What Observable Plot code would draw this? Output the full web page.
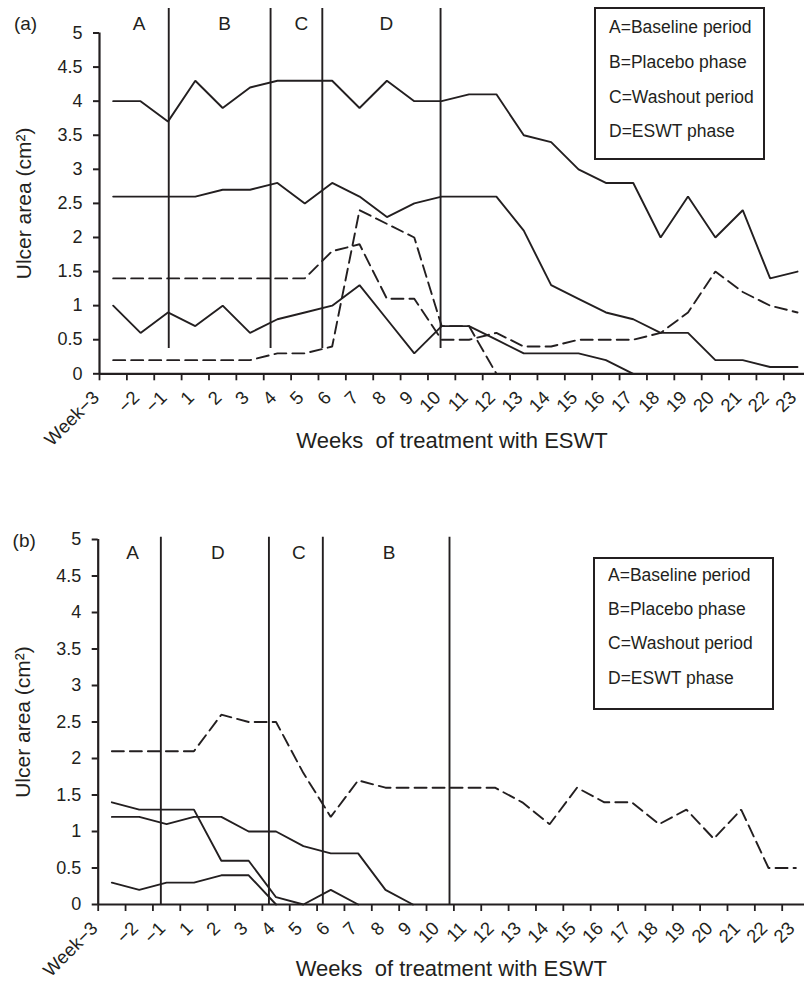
<!DOCTYPE html>
<html>
<head>
<meta charset="utf-8">
<script src="https://cdn.jsdelivr.net/npm/d3@7"></script>
<script src="https://cdn.jsdelivr.net/npm/@observablehq/plot@0.6"></script>
<style>
  html, body { margin: 0; padding: 0; background: #fff; }
  #page { position: relative; width: 804px; height: 982px; overflow: hidden; font-family: 'Liberation Sans', Arial, Helvetica, sans-serif; color: #231f20; }
  .panel { position: absolute; left: 0; width: 804px; }
  .legend { position: absolute; box-sizing: border-box; border: 2px solid #231f20; background: #fff; }
  .legend span { position: absolute; left: 13px; white-space: nowrap; font-size: 17.5px; line-height: 1; transform: translateY(-50%); }
  svg { overflow: visible; }
</style>
</head>
<body>
<div id="page">
  <div id="pa" class="panel" style="top:0px"></div>
  <div id="pb" class="panel" style="top:470px"></div>
</div>
<script>
// ---------- data ----------
const weeks = ["Week\u22123", "\u22122", "\u22121", "1", "2", "3", "4", "5", "6", "7", "8", "9", "10",
  "11", "12", "13", "14", "15", "16", "17", "18", "19", "20", "21", "22", "23"];
const yTicks = [0, 0.5, 1, 1.5, 2, 2.5, 3, 3.5, 4, 4.5, 5];
const legendItems = ["A=Baseline period", "B=Placebo phase", "C=Washout period", "D=ESWT phase"];

// panel (a): ulcer area (cm2) per week, index 0 = Week -3
const aSolid1 = [4.0, 4.0, 3.7, 4.3, 3.9, 4.2, 4.3, 4.3, 4.3, 3.9, 4.3, 4.0, 4.0, 4.1, 4.1, 3.5, 3.4, 3.0, 2.8, 2.8, 2.0, 2.6, 2.0, 2.4, 1.4, 1.5];
const aSolid2 = [2.6, 2.6, 2.6, 2.6, 2.7, 2.7, 2.8, 2.5, 2.8, 2.6, 2.3, 2.5, 2.6, 2.6, 2.6, 2.1, 1.3, 1.1, 0.9, 0.8, 0.6, 0.6, 0.2, 0.2, 0.1, 0.1];
const aSolid3 = [1.0, 0.6, 0.9, 0.7, 1.0, 0.6, 0.8, 0.9, 1.0, 1.3, 0.8, 0.3, 0.7, 0.7, 0.5, 0.3, 0.3, 0.3, 0.2, 0.0];
const aDashed1 = [1.4, 1.4, 1.4, 1.4, 1.4, 1.4, 1.4, 1.4, 1.8, 1.9, 1.1, 1.1, 0.5, 0.5, 0.6, 0.4, 0.4, 0.5, 0.5, 0.5, 0.6, 0.9, 1.5, 1.2, 1.0, 0.9];
const aDashed2 = [0.2, 0.2, 0.2, 0.2, 0.2, 0.2, 0.3, 0.3, 0.4, 2.4, 2.2, 2.0, 0.7, 0.7, 0.0];
const aPhaseBounds = [2.03, 5.75, 7.64, 11.96];   // in week-index units
const aPhaseLetters = ["A", "B", "C", "D"];

// panel (b)
const bDashed1 = [2.1, 2.1, 2.1, 2.1, 2.6, 2.5, 2.5, 1.8, 1.2, 1.7, 1.6, 1.6, 1.6, 1.6, 1.6, 1.4, 1.1, 1.6, 1.4, 1.4, 1.1, 1.3, 0.9, 1.3, 0.5, 0.5];
const bSolid1 = [1.4, 1.3, 1.3, 1.3, 0.6, 0.6, 0.1, 0.0, 0.2, 0.0];
const bSolid2 = [1.2, 1.2, 1.1, 1.2, 1.2, 1.0, 1.0, 0.8, 0.7, 0.7, 0.2, 0.0];
const bSolid3 = [0.3, 0.2, 0.3, 0.3, 0.4, 0.4, 0.0];
const bPhaseBounds = [1.79, 5.74, 7.71, 12.34];
const bPhaseLetters = ["A", "D", "C", "B"];

// ---------- drawing ----------
const ink = "#231f20";
const fontFamily = "'Liberation Sans', Arial, Helvetica, sans-serif";

function panel(cfg) {
  const x0 = -0.5;
  const tickPos = weeks.map((w, i) => i - 0.5);
  const bounds = [x0, ...cfg.phases];
  const letterRows = cfg.letters.map((l, i) => ({l, x: (bounds[i] + bounds[i + 1]) / 2}));
  const labelStyle = {x: (d, i) => i, y: 0, text: d => d, rotate: -45, textAnchor: "end", lineAnchor: "bottom", dy: 25, fontSize: 18.5};
  const marks = [
    Plot.axisY({ticks: yTicks, tickSize: 6, tickPadding: 11, fontSize: 18, label: null, strokeWidth: 2, tickFormat: d => String(d)}),
    Plot.axisX({ticks: tickPos, tickSize: 7, tickFormat: () => "", label: null, strokeWidth: 1.8}),
    Plot.ruleY([0], {stroke: ink, strokeWidth: 2.2}),
    Plot.ruleX([x0], {y1: 0, y2: 5, stroke: ink, strokeWidth: 2.2}),
    Plot.ruleX(cfg.phases, {y1: cfg.phaseY1, y2: cfg.phaseY2, stroke: ink, strokeWidth: 1.9}),
    Plot.text(letterRows, {x: "x", y: cfg.letterY, text: "l", fontSize: 19, dx: cfg.letterDx}),
    ...cfg.series.map(s => Plot.lineY(s.values, {x: (d, i) => i, y: d => d, stroke: ink, strokeWidth: 1.9,
      strokeDasharray: s.dashed ? "12,6" : null, strokeLinejoin: "miter"})),
    Plot.text(weeks, {...labelStyle, dx: 0, filter: (d, i) => i > 0}),
    Plot.text(weeks, {...labelStyle, dx: -13, filter: (d, i) => i === 0}),
    Plot.text(["Ulcer area (cm\u00b2)"], {frameAnchor: "left", textAnchor: "middle", lineAnchor: "middle", dx: -75, rotate: -90, fontSize: 21}),
    Plot.text(["Weeks  of treatment with ESWT"], {frameAnchor: "bottom", textAnchor: "middle", lineAnchor: "middle", dy: cfg.xTitleDy, fontSize: 22}),
    Plot.text([cfg.tag], {frameAnchor: "top-left", textAnchor: "middle", lineAnchor: "middle", dx: -74, dy: cfg.tagDy, fontSize: 19})
  ];
  return Plot.plot({
    width: 804,
    height: cfg.height,
    marginLeft: cfg.marginLeft,
    marginRight: 0,
    marginTop: cfg.marginTop,
    marginBottom: cfg.marginBottom,
    x: {type: "linear", domain: [x0, cfg.xMax], axis: null},
    y: {domain: [0, 5], axis: null},
    style: {fontFamily, color: ink, background: "transparent", overflow: "visible"},
    marks
  });
}

function legend(host, left, top, w, h, centers) {
  const box = document.createElement("div");
  box.className = "legend";
  Object.assign(box.style, {left: left + "px", top: top + "px", width: w + "px", height: h + "px"});
  legendItems.forEach((t, i) => {
    const s = document.createElement("span");
    s.textContent = t;
    s.style.top = (centers[i] - top - 2) + "px";
    box.appendChild(s);
  });
  host.appendChild(box);
}

const pa = document.getElementById("pa");
pa.appendChild(panel({
  series: [
    {values: aSolid1}, {values: aSolid2}, {values: aSolid3},
    {values: aDashed1, dashed: true}, {values: aDashed2, dashed: true}
  ],
  phases: aPhaseBounds, letters: aPhaseLetters,
  phaseY1: 0.37, phaseY2: 5.36, letterY: 5.13, letterDx: 5,
  height: 470, marginLeft: 99, marginTop: 32.5, marginBottom: 96.7, xMax: 25.256,
  xTitleDy: 66.7, tag: "(a)", tagDy: -9.5
}));
legend(document.getElementById("page"), 594, 6.5, 171, 153, [28.3, 63.3, 98.3, 132.3]);

const pb = document.getElementById("pb");
pb.appendChild(panel({
  series: [
    {values: bDashed1, dashed: true}, {values: bSolid1}, {values: bSolid2}, {values: bSolid3}
  ],
  phases: bPhaseBounds, letters: bPhaseLetters,
  phaseY1: 0, phaseY2: 5.03, letterY: 4.81, letterDx: 3,
  height: 512, marginLeft: 97.7, marginTop: 69, marginBottom: 78, xMax: 25.315,
  xTitleDy: 64, tag: "(b)", tagDy: 1
}));
legend(document.getElementById("page"), 593, 557, 181, 152.5, [576, 610, 644.3, 679.3]);
</script>
</body>
</html>
